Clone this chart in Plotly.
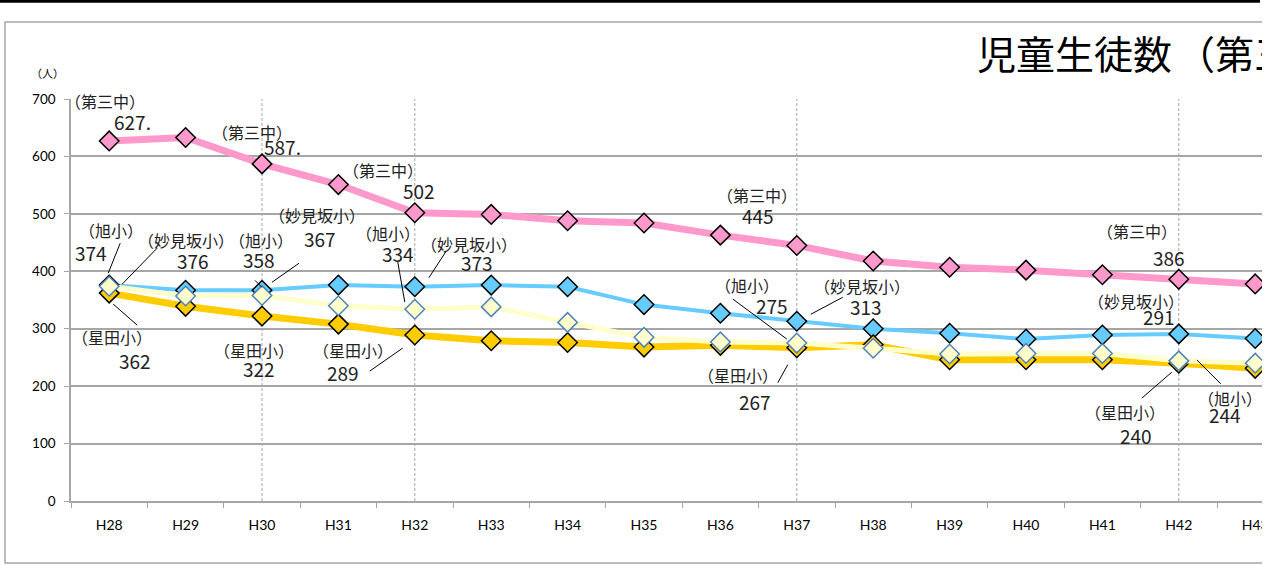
import plotly.graph_objects as go

# 年度
years = ["H28", "H29", "H30", "H31", "H32", "H33", "H34", "H35",
         "H36", "H37", "H38", "H39", "H40", "H41", "H42", "H43"]

# 児童生徒数（人）
daisan_chu = [627, 633, 587, 551, 502, 499, 488, 484, 463, 445, 418, 407, 402, 394, 386, 378]
myokenzaka_sho = [376, 367, 367, 376, 373, 376, 373, 342, 327, 313, 300, 292, 282, 289, 291, 283]
hoshida_sho = [362, 339, 322, 308, 289, 279, 276, 268, 271, 267, 272, 246, 246, 246, 240, 231]
asahi_sho = [374, 357, 358, 340, 334, 338, 311, 285, 277, 275, 266, 256, 257, 257, 244, 240]

marked_years = ["H30", "H32", "H37", "H42"]

# figure geometry (px)
W, H = 1262, 565
L, T, B = 71, 99, 64
PW, PH = W - L, H - T - B
CAT_W = 76.4

JP = "Noto Sans CJK JP"

series = {
    "第三中": dict(y=daisan_chu, color="#FF99CC", width=7, edge="#000000"),
    "妙見坂小": dict(y=myokenzaka_sho, color="#66CCFF", width=4, edge="#000000"),
    "星田小": dict(y=hoshida_sho, color="#FFCC00", width=7, edge="#000000"),
    "旭小": dict(y=asahi_sho, color="#FFFFCC", width=5, edge="#4F81BD"),
}

# data labels: series, year, name offset, number offset, leader line, suffix
# offsets are pixels from the marker (dx, dy with dy going down)
labels = [
    ("第三中", "H28", (-4, -40), (23, -19), None, "."),
    ("第三中", "H30", (-10, -32), (20, -17), None, "."),
    ("第三中", "H32", (-32, -43), (4, -22), None, ""),
    ("第三中", "H37", (-40, -50), (-39, -30), None, ""),
    ("第三中", "H42", (-42, -48), (-10, -22), None, ""),
    ("妙見坂小", "H28", (77, -45), (84, -25), (13, -1, 48, -37), ""),
    ("妙見坂小", "H30", (55, -75), (58, -52), (10, -8, 37, -27), ""),
    ("妙見坂小", "H32", (54, -43), (62, -24), (14, -9, 31, -35), ""),
    ("妙見坂小", "H37", (65, -35), (69, -15), (14, -7, 46, -24), ""),
    ("妙見坂小", "H42", (-43, -33), (-20, -17), None, ""),
    ("旭小", "H28", (2, -56), (-18, -34), (-1, -13, 11, -43), ""),
    ("旭小", "H30", (-1, -55), (-3, -36), (-7, -15, 0, -8), ""),
    ("旭小", "H32", (-27, -76), (-17, -56), (-17, -47, -10, -7), ""),
    ("旭小", "H37", (-50, -58), (-25, -38), (-64, -44, -10, -4), ""),
    ("旭小", "H42", (51, 37), (46, 54), (18, -1, 42, 23), ""),
    ("星田小", "H28", (3, 44), (26, 67), (4, 11, 28, 32), ""),
    ("星田小", "H30", (-8, 34), (-3, 52), None, ""),
    ("星田小", "H32", (-62, 15), (-72, 37), (-45, 36, -12, 13), ""),
    ("星田小", "H37", (-59, 27), (-42, 54), (-19, 35, -9, 17), ""),
    ("星田小", "H42", (-54, 49), (-43, 72), (-37, 35, -7, 9), ""),
]


def paper_x(px):
    return (px - L) / PW


def paper_y(py):
    return (H - B - py) / PH


fig = go.Figure()

for name, s in series.items():
    fig.add_trace(
        go.Scatter(
            x=years,
            y=s["y"],
            name=name,
            mode="lines+markers",
            line=dict(color=s["color"], width=s["width"]),
            marker=dict(symbol="diamond", size=15, color=s["color"],
                        line=dict(color=s["edge"], width=1.5)),
        )
    )

# dashed reference lines
for yr in marked_years:
    fig.add_shape(type="line", xref="x", yref="paper",
                  x0=years.index(yr), x1=years.index(yr), y0=0, y1=1,
                  line=dict(color="#A6A6A6", width=1, dash="3px,2px"), layer="below")

# data labels
for name, yr, (ndx, ndy), (vdx, vdy), leader, suffix in labels:
    i = years.index(yr)
    v = series[name]["y"][i]
    fig.add_annotation(x=i, y=v, xref="x", yref="y", text="（" + name + "）",
                       showarrow=False, xshift=ndx, yshift=-ndy,
                       font=dict(family=JP, size=16, color="#222222"))
    fig.add_annotation(x=i, y=v, xref="x", yref="y", text=str(v) + suffix,
                       showarrow=False, xshift=vdx, yshift=-vdy,
                       font=dict(family=JP, size=19, color="#222222"))
    if leader:
        x0, y0, x1, y1 = leader
        fig.add_shape(type="line", xref="x", yref="y",
                      xsizemode="pixel", ysizemode="pixel",
                      xanchor=i, yanchor=v,
                      x0=x0, x1=x1, y0=-y0, y1=-y1,
                      line=dict(color="#000000", width=1))

# chart frame and top bar
fig.add_shape(type="rect", xref="paper", yref="paper",
              x0=paper_x(5), x1=paper_x(1320), y0=paper_y(563), y1=paper_y(22),
              line=dict(color="#A6A6A6", width=1.5), layer="below")
fig.add_shape(type="rect", xref="paper", yref="paper",
              x0=paper_x(0), x1=paper_x(1260), y0=paper_y(2.7), y1=paper_y(0),
              line=dict(width=0), fillcolor="#000000")

# title (cut at the right edge as in the original)
title_font = dict(family=JP, size=39, color="#000000")
fig.add_annotation(xref="paper", yref="paper", x=paper_x(975), y=paper_y(52),
                   xanchor="left", yanchor="middle", align="left", showarrow=False,
                   text="児童生徒数", font=title_font)
fig.add_annotation(xref="paper", yref="paper", x=paper_x(1174), y=paper_y(52),
                   xanchor="left", yanchor="middle", align="left", showarrow=False,
                   text="（第三中学校区）", font=title_font)

# unit
fig.add_annotation(xref="paper", yref="paper", x=paper_x(47), y=paper_y(73),
                   xanchor="center", yanchor="middle", showarrow=False,
                   text="（人）", font=dict(family=JP, size=11, color="#000000"))

fig.update_layout(
    template="none",
    width=W,
    height=H,
    margin=dict(l=L, r=0, t=T, b=B, autoexpand=False),
    showlegend=False,
    plot_bgcolor="white",
    paper_bgcolor="white",
)

fig.update_xaxes(
    type="category",
    range=[-0.5, -0.5 + PW / CAT_W],
    showgrid=False,
    zeroline=False,
    showline=True,
    linecolor="#A6A6A6",
    linewidth=1.5,
    ticks="outside",
    tickson="boundaries",
    ticklen=5,
    tickcolor="#A6A6A6",
    tickfont=dict(family="Lato", size=14, color="#000000"),
    ticklabelstandoff=10,
)

fig.update_yaxes(
    range=[0, 700],
    dtick=100,
    showgrid=True,
    gridcolor="#A6A6A6",
    gridwidth=1.5,
    zeroline=False,
    showline=True,
    linecolor="#A6A6A6",
    linewidth=1.5,
    ticks="outside",
    ticklen=5,
    tickcolor="#A6A6A6",
    tickfont=dict(family="Lato", size=13.5, color="#000000"),
    ticklabelstandoff=6,
)

fig.write_html(
    "out.html",
    config={"displayModeBar": False},
    post_script="document.body.style.margin='0';",
)
